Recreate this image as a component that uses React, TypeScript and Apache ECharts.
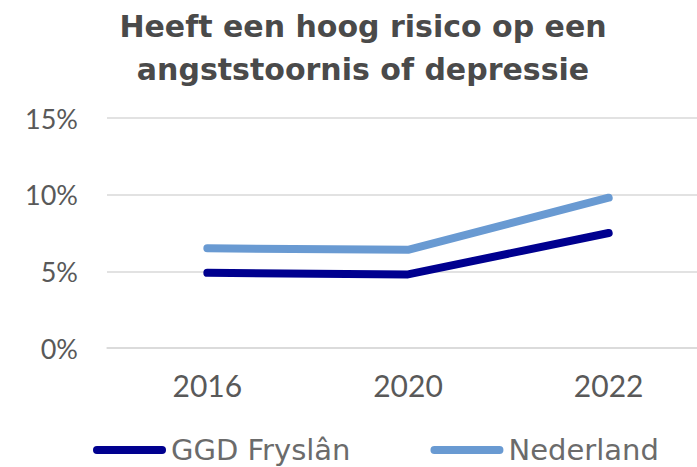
import React, { useEffect, useRef } from "react";
import * as echarts from "echarts";

const categories = ["2016", "2020", "2022"];
const ggdFryslan = [4.9, 4.8, 7.5];
const nederland = [6.5, 6.4, 9.8];
const seriesNames = ["GGD Fryslân", "Nederland"];
const titleText = "Heeft een hoog risico op een\nangststoornis of depressie";

export default function App() {
  const ref = useRef<HTMLDivElement>(null);
  useEffect(() => {
    if (!ref.current) return;
    const chart = echarts.init(ref.current, undefined, { renderer: "svg" });
    const font = "Lato, 'DejaVu Sans', sans-serif";
    const capsule = "path://M4,0 H70 A4,4 0 0 1 70,8 H4 A4,4 0 0 1 4,0 Z";
    chart.setOption({
      animation: false,
      backgroundColor: "#ffffff",
      title: {
        text: titleText,
        left: 358,
        textAlign: "center",
        top: 0,
        textStyle: {
          fontFamily: "'DejaVu Sans', sans-serif",
          fontWeight: "bold",
          fontSize: 30,
          lineHeight: 43,
          color: "#4a4a4a",
        },
      },
      legend: {
        top: 434,
        left: 93,
        padding: 0,
        itemGap: 80,
        itemWidth: 73,
        itemHeight: 8,
        textStyle: { fontFamily: "'DejaVu Sans', sans-serif", fontSize: 29, lineHeight: 32, color: "#6b6b6b" },
        data: [
          { name: seriesNames[0], icon: capsule },
          { name: seriesNames[1], icon: capsule },
        ],
      },
      grid: { left: 107, top: 118, width: 602, height: 230 },
      xAxis: {
        type: "category",
        data: categories,
        boundaryGap: true,
        axisLine: { show: true, lineStyle: { color: "#d9d9d9", width: 1.5 } },
        axisTick: { show: false },
        axisLabel: { margin: 22, fontFamily: font, fontSize: 30, color: "#595959" },
      },
      yAxis: {
        type: "value",
        min: 0,
        max: 15,
        interval: 5,
        axisLine: { show: false },
        axisTick: { show: false },
        splitLine: { lineStyle: { color: "#d9d9d9", width: 1.5 } },
        axisLabel: {
          margin: 29,
          fontFamily: font,
          fontSize: 27,
          color: "#595959",
          formatter: (v: number) => v + "%",
        },
      },
      series: [
        {
          name: seriesNames[0],
          type: "line",
          data: ggdFryslan,
          symbol: "none",
          lineStyle: { color: "#00008f", width: 8, cap: "round", join: "round" },
          itemStyle: { color: "#00008f" },
        },
        {
          name: seriesNames[1],
          type: "line",
          data: nederland,
          symbol: "none",
          lineStyle: { color: "#699ad2", width: 8, cap: "round", join: "round" },
          itemStyle: { color: "#699ad2" },
        },
      ],
    });
    return () => chart.dispose();
  }, []);
  return (
    <div style={{ width: 697, height: 467, position: "absolute", left: 0, top: 0, overflow: "hidden" }}>
      <div ref={ref} style={{ width: 712, height: 467, position: "absolute", left: 0, top: 0 }} />
    </div>
  );
}
